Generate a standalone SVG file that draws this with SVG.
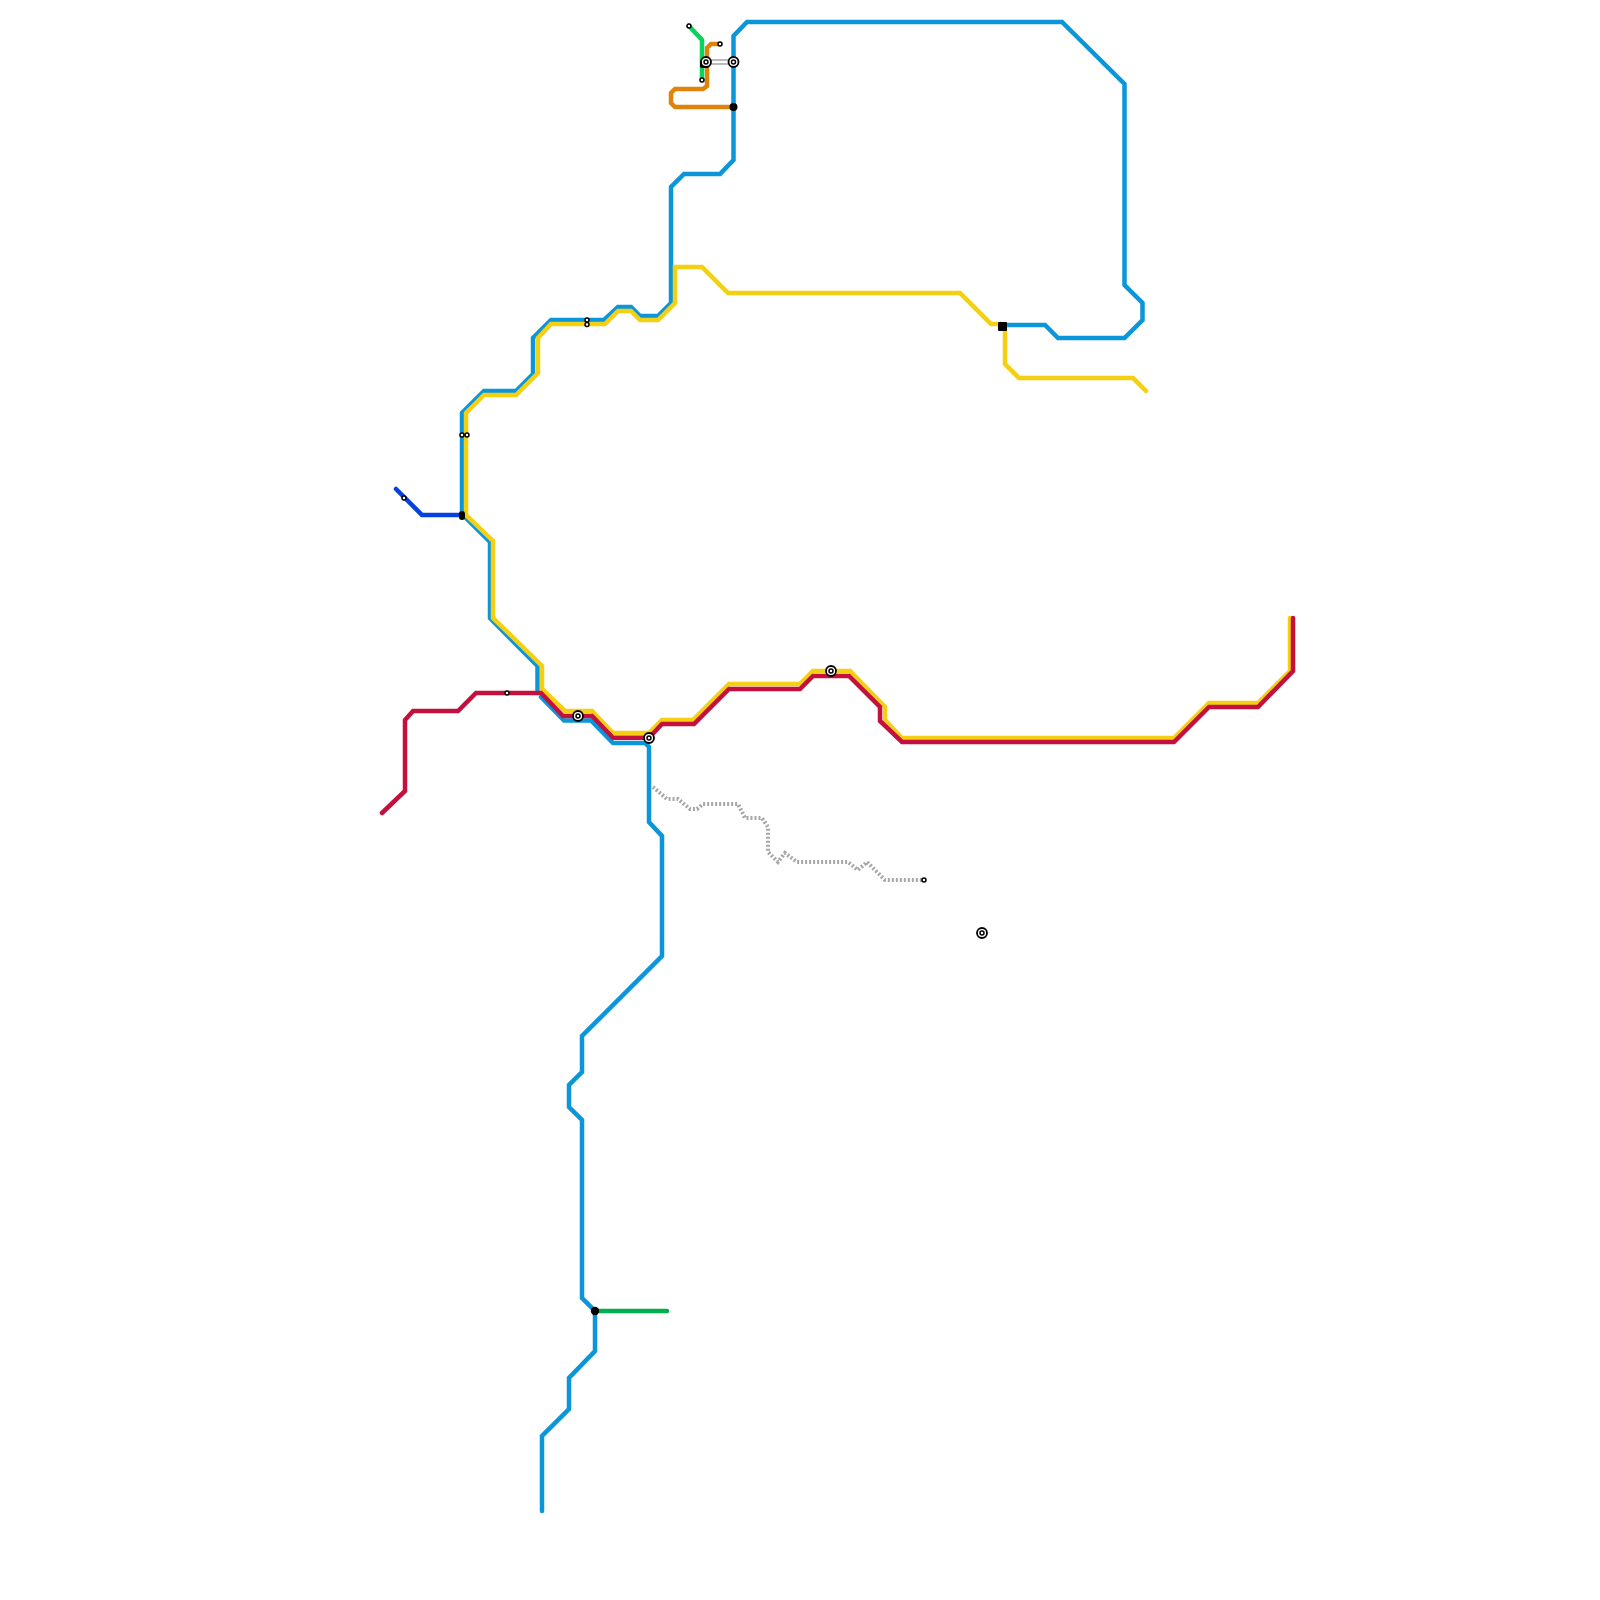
<svg xmlns="http://www.w3.org/2000/svg" width="1600" height="1600" viewBox="0 0 1600 1600">
<style>
.l{fill:none;stroke-width:4.500;stroke-linecap:round;stroke-linejoin:miter}
.blue{stroke:#0b96da}.yellow{stroke:#f4cf12}.red{stroke:#c3103d}.orange{stroke:#e0830a}.lime{stroke:#08d45c}.green{stroke:#00b04f}.navy{stroke:#0540e0}
.gray{stroke:#a6a6a6;stroke-width:4;stroke-dasharray:2 2;stroke-linecap:butt}
.s{fill:#fff;stroke:#000;stroke-width:1.500}
.ir{fill:#fff;stroke:#000;stroke-width:1.800}
.ii{fill:#fff;stroke:#000;stroke-width:1.500}
.b{fill:#000}
</style>
<g id="connectors">
<path id="line-gray" class="l gray" d="M653 787L667 799H678L690 809H697L703 804H738L745 818H762L768 827V852L778 862L785 853L797 862H848L858 870L867 862L885 880H923"/>
<path id="line-blue" class="l blue" d="M542 1511V1436L569 1409V1378L595 1351V1311L582 1298V1120L569 1107V1085L582 1072V1036L662 956V836L649 822V747L645 743H613L591 720.500H564L541 697"/>
<path id="line-blue-2" class="l blue" d="M537.500 690V666L490 618V542L462 514V413L484 391H516L533 374V338L551 320H604L618 307H631L640 316H658L671 303V187L684 174H720L733.500 160V36L747 22H1062L1124.500 84V285L1142.500 303V320L1124.500 338H1058L1045 325H1002"/>
<path id="line-yellow" class="l yellow" d="M1290 618V671L1258 703H1209L1174 738H902L885 720V707L850 671H813L800 684H729L693 720H662L649 733H613L592 711H565L542 689V666L493 618V541L466 515V413L484 395H516L538 373V338L551 324H605L618 311H631L640 320H658L675 303V267H702L728 293H960L991 324H1002"/>
<path id="line-yellow-2" class="l yellow" d="M1005 326V364L1019 378H1133L1146 391"/>
<path id="line-red" class="l red" d="M382 813L405 791V720L413 711H458L476 693H541L563 716H592L613 737.800H649L662 724H694L729 689H800L813 676H849L880 707V721L902 742H1174L1209 707H1258L1293 671V618"/>
<path id="line-orange" class="l orange" d="M720 44H711L707 48V86L703 89H675L671 93V103L675 107H733"/>
<path id="line-lime" class="l lime" d="M689 26L702 40V80"/>
<path id="line-green" class="l green" d="M595 1311H667"/>
<path id="line-navy" class="l navy" d="M396 489L422 515H462"/>
<path d="M706 62H733" fill="none" stroke="#777" stroke-width="5"/>
<path d="M706 62H733" fill="none" stroke="#fff" stroke-width="3"/>
</g>
<g id="n-black-1"><rect class="b" x="700" y="60" width="9" height="8" rx="2"/></g>
<g id="n-a"><circle class="ir" cx="706" cy="62" r="5"/><circle class="ii" cx="706" cy="62" r="2"/></g>
<g id="n-b"><circle class="ir" cx="733.500" cy="62" r="5"/><circle class="ii" cx="733.500" cy="62" r="2"/></g>
<g id="n-c"><circle class="b" cx="733.500" cy="107" r="4"/></g>
<g id="n-d"><circle class="s" cx="689" cy="26" r="2"/></g>
<g id="n-e"><circle class="s" cx="720" cy="44" r="2"/></g>
<g id="n-f"><circle class="s" cx="702" cy="80" r="2"/></g>
<g id="n-g"><rect class="b" x="998" y="322" width="9" height="9" rx="1"/></g>
<g id="n-h"><rect class="b" x="459" y="511" width="6" height="9" rx="3"/></g>
<g id="n-i"><circle class="s" cx="404" cy="498" r="2"/></g>
<g id="n-j"><circle class="s" cx="462" cy="435" r="2"/></g>
<g id="n-k"><circle class="s" cx="467" cy="435" r="2"/></g>
<g id="n-l"><circle class="s" cx="587" cy="320" r="2"/></g>
<g id="n-m"><circle class="s" cx="587" cy="324.500" r="2"/></g>
<g id="n-n"><circle class="s" cx="507" cy="693" r="2"/></g>
<g id="n-o"><circle class="ir" cx="578" cy="716" r="5"/><circle class="ii" cx="578" cy="716" r="2"/></g>
<g id="n-p"><circle class="ir" cx="649" cy="738" r="5"/><circle class="ii" cx="649" cy="738" r="2"/></g>
<g id="n-q"><circle class="ir" cx="831" cy="671" r="5"/><circle class="ii" cx="831" cy="671" r="2"/></g>
<g id="n-r"><circle class="ir" cx="982" cy="933" r="5"/><circle class="ii" cx="982" cy="933" r="2"/></g>
<g id="n-s"><circle class="s" cx="924" cy="880" r="2"/></g>
<g id="n-t"><circle class="b" cx="595" cy="1311" r="4.200"/></g>
</svg>
